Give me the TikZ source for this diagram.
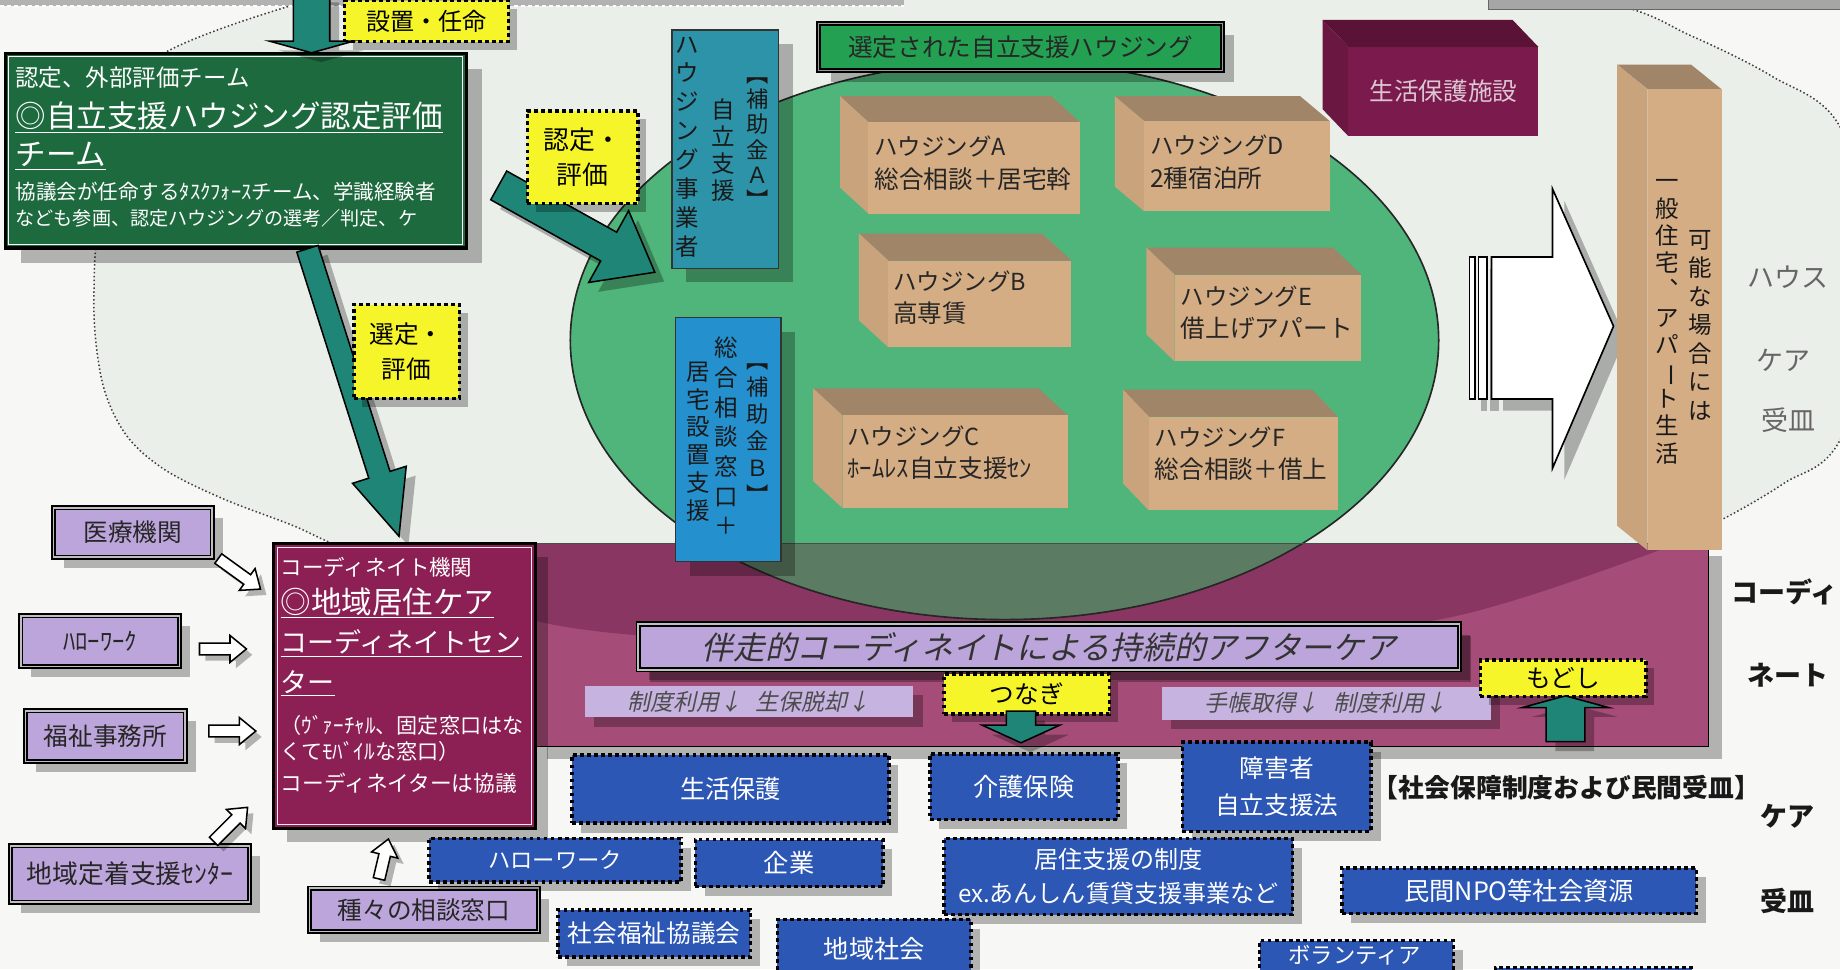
\documentclass[tikz,border=0pt]{standalone}
\usepackage{fontspec}
\usepackage{graphicx}
\setmainfont{Noto Sans CJK JP}
\newfontfamily\slnt[FakeSlant=0.22]{Noto Sans CJK JP}
\usetikzlibrary{calc,shadows}

\definecolor{bgout}{HTML}{F7F8F6}
\definecolor{bgin}{HTML}{EBEFE9}
\definecolor{tealA}{HTML}{1F8677}
\definecolor{gteam}{HTML}{1E6A3F}
\definecolor{gtitle}{HTML}{24A052}
\definecolor{ellg}{HTML}{4FB57A}
\definecolor{ellgd}{HTML}{5B7B62}
\definecolor{boxA}{HTML}{2D93A9}
\definecolor{boxB}{HTML}{2490CE}
\definecolor{pnl}{HTML}{A64C78}
\definecolor{pnld}{HTML}{8A3662}
\definecolor{coord}{HTML}{8C1F53}
\definecolor{lav}{HTML}{BCA5DA}
\definecolor{lavl}{HTML}{C6B3DF}
\definecolor{blu}{HTML}{2C57B5}
\definecolor{ylw}{HTML}{F6F52A}
\definecolor{tanF}{HTML}{D4AD84}
\definecolor{tanT}{HTML}{A08568}
\definecolor{tanS}{HTML}{C9A37B}
\definecolor{marF}{HTML}{7B1B4D}
\definecolor{marT}{HTML}{5A1236}
\definecolor{marS}{HTML}{6A1742}
\definecolor{marTxt}{HTML}{DCC6D2}

\newcommand\fs[1]{\fontsize{#1}{#1}\selectfont}
\newcommand\fsl[2]{\fontsize{#1}{#2}\selectfont}

% fat arrow polygon: #1 style, #2 from, #3 to, #4 half shaft, #5 half head, #6 head length
\newcommand\fatarrow[6]{%
  \coordinate (fah) at ($(#3)!#6pt!(#2)$);
  \path[#1] ($(#2)!#4pt!90:(#3)$) -- ($(fah)!#4pt!-90:(#2)$) -- ($(fah)!#5pt!-90:(#2)$) -- (#3) -- ($(fah)!#5pt!90:(#2)$) -- ($(fah)!#4pt!90:(#2)$) -- ($(#2)!#4pt!-90:(#3)$) -- cycle;}

% oblique box: #1 x1, #2 y1, #3 x2, #4 y2 (front face), #5 dx, #6 dy, #7 colour prefix
\newcommand\cube[7]{%
  \fill[#7T] (#1-#5,#2-#6) -- (#3-#5,#2-#6) -- (#3,#2) -- (#1,#2) -- cycle;
  \fill[#7S] (#1-#5,#2-#6) -- (#1,#2) -- (#1,#4) -- (#1-#5,#4-#6) -- cycle;
  \fill[#7F] (#1,#2) rectangle (#3,#4);}

\def\bigell{plot[smooth cycle,tension=0.55] coordinates {(150,40) (90,170) (80,255) (87,325) (107,370) (140,400) (190,425) (250,448) (300,470) (460,530) (650,548) (850,553) (1050,548) (1236,526) (1400,474) (1465,444) (1520,412) (1568,375) (1610,240) (1568,108) (1510,65) (1440,30) (1364,0) (1100,-60) (600,-70)}}

\tikzset{
  sh/.style={drop shadow={shadow xshift=#1pt,shadow yshift=-#1pt,fill=black,opacity=0.28}},
  sh/.default=7,
  dotb/.style={draw=black,line width=3pt,dash pattern=on 3.2pt off 2.8pt},
  ybox/.style={dotb,fill=ylw,sh,inner sep=0pt,text=black,align=center,anchor=north west},
  bbox/.style={dotb,fill=blu,sh=8,inner sep=0pt,text=white,align=center,anchor=north west},
  lbox/.style={draw=black,line width=1.6pt,double=white!75!black,double distance=1.2pt,fill=lav,sh=9,inner sep=0pt,anchor=north west,text=black!85},
  tarrow/.style={fill=tealA,draw=black,line width=1.3pt,sh=8},
  harrow/.style={fill=white,draw=black,line width=1.3pt,sh=5},
  ctxt/.style={anchor=west,inner sep=0pt,text=black!85},
  vtxt/.style={anchor=north,inner sep=0pt,align=center,text=black!90},
  wtxt/.style={anchor=west,inner sep=0pt,text=white},
}

\begin{document}
\begin{tikzpicture}[x=1pt,y=-1pt]
\useasboundingbox (0,0) rectangle (1568,826);
\fill[bgout] (0,0) rectangle (1568,826);

% large dotted area
\fill[bgin] \bigell;
\draw[dotted,line width=1.3pt,black!75] \bigell;

% strips at the top edge
\fill[black!30] (0,-5) rectangle (770,5);
\draw[white,line width=2pt,dash pattern=on 3pt off 3pt] (0,5) -- (770,5);
\fill[black!35] (1268,-5) rectangle (1568,8);
\draw[black!60,line width=0.8pt] (1268,-5) rectangle (1568,8);

% magenta panel
\node[fill=pnl,sh=11,minimum width=1001pt,minimum height=173pt,anchor=north west,inner sep=0pt] (panel) at (455,463) {};
\begin{scope}
  \clip (455,463) rectangle (1456,636);
  \fill[pnld] \bigell;
\end{scope}
\draw[black,line width=1.2pt] (455,463) rectangle (1456,636);

% green housing ellipse
\fill[ellg] (856,290) ellipse [x radius=370,y radius=238];
\begin{scope}
  \clip (856,290) ellipse [x radius=370,y radius=238];
  \fill[ellgd] (455,463) rectangle (1456,636);
\end{scope}
\draw[black!85,line width=1.4pt] (856,290) ellipse [x radius=370,y radius=238];
\draw[black!70,line width=1pt] (455,463) -- (1400,463);

% subsidy boxes
\node[draw=black!80,line width=1.2pt,fill=boxA,sh=12,minimum width=91pt,minimum height=203pt,anchor=north west,inner sep=0pt] (hA) at (572,25) {};
\node[vtxt,font=\fsl{19}{21.5}] (hA1) at (646,66) {︻\\補\\助\\金\\Ａ\\︼};
\node[vtxt,font=\fsl{20}{23}] (hA2) at (616,84) {自\\立\\支\\援};
\node[vtxt,font=\fsl{20}{24.6}] (hA3) at (586,31) {ハ\\ウ\\ジ\\ン\\グ\\事\\業\\者};

\node[draw=black!80,line width=1.2pt,fill=boxB,sh=12,minimum width=90pt,minimum height=208pt,anchor=north west,inner sep=0pt] (hB) at (575,270) {};
\node[vtxt,font=\fsl{19}{23}] (hB1) at (646,310) {︻\\補\\助\\金\\Ｂ\\︼};
\node[vtxt,font=\fsl{20}{25.3}] (hB2) at (619,287) {総\\合\\相\\談\\窓\\口\\＋};
\node[vtxt,font=\fsl{20}{23.8}] (hB3) at (595,308) {居\\宅\\設\\置\\支\\援};

% housing cubes
\cube{740}{104}{920}{182}{24}{22}{tan}
\node[ctxt,font=\fs{20}] (cA1) at (745,125) {ハウジングA};
\node[ctxt,font=\fs{21}] (cA2) at (745,153) {総合相談＋居宅斡};
\cube{975}{103}{1133}{180}{25}{21}{tan}
\node[ctxt,font=\fs{20}] (cD1) at (980,124) {ハウジングD};
\node[ctxt,font=\fs{21}] (cD2) at (980,152) {2種宿泊所};
\cube{757}{222}{913}{296}{25}{23}{tan}
\node[ctxt,font=\fs{20}] (cB1) at (761,240) {ハウジングB};
\node[ctxt,font=\fs{21}] (cB2) at (761,267) {高専賃};
\cube{1001}{234}{1160}{308}{24}{23}{tan}
\node[ctxt,font=\fs{20}] (cE1) at (1006,253) {ハウジングE};
\node[ctxt,font=\fs{21}] (cE2) at (1006,280) {借上げアパート};
\cube{718}{354}{910}{433}{25}{23}{tan}
\node[ctxt,font=\fs{20}] (cC1) at (722,372) {ハウジングC};
\node[ctxt,font=\fs{21}] (cC2) at (722,399) {ﾎｰﾑﾚｽ自立支援ｾﾝ};
\cube{979}{355}{1140}{435}{22}{23}{tan}
\node[ctxt,font=\fs{20}] (cF1) at (984,373) {ハウジングF};
\node[ctxt,font=\fs{21}] (cF2) at (984,400) {総合相談＋借上};

% title bar
\node[draw=black,line width=1.6pt,double=black!40,double distance=1pt,fill=gtitle,sh=10,minimum width=344pt,minimum height=40pt,anchor=north west,inner sep=0pt,text=black!85,font=\fs{21}] (title) at (697,19) {選定された自立支援ハウジング};

% welfare facility
\cube{1149}{40}{1311}{116}{22}{23}{mar}
\node[font=\fs{21},text=marTxt,inner sep=0pt] (fac) at (1230,78) {生活保護施設};

% white arrow towards ordinary housing
\path[fill=white,draw=black,line width=1.2pt,sh=10] (1252,219) rectangle (1257,340);
\path[fill=white,draw=black,line width=1.2pt,sh=10] (1260,219) rectangle (1267,340);
\path[fill=white,draw=black,line width=1.4pt,sh=10] (1271,219) -- (1323,219) -- (1323,161) -- (1375,278) -- (1323,399) -- (1323,340) -- (1271,340) -- cycle;

% pillar
\cube{1404}{76}{1467}{469}{26}{21}{tan}
\node[vtxt,font=\fsl{20}{24.3}] (pl1) at (1449,196) {可\\能\\な\\場\\合\\に\\は};
\node[vtxt,font=\fsl{20}{23.2}] (pl2) at (1421,153) {一\\般\\住\\宅\\︑\\ア\\パ\\\rotatebox[origin=c]{-90}{ー}\\ト\\生\\活};

% right side labels
\node[font=\fs{23},text=black!60,inner sep=0pt] (rh1) at (1524,236) {ハウス};
\node[font=\fs{23},text=black!60,inner sep=0pt] (rh2) at (1520,307) {ケア};
\node[font=\fs{23},text=black!60,inner sep=0pt] (rh3) at (1524,358) {受皿};
\node[font=\bfseries\fs{23},text=black!90,inner sep=0pt] (rk1) at (1521,504) {コーディ};
\node[font=\bfseries\fs{23},text=black!90,inner sep=0pt] (rk2) at (1524,575) {ネート};
\node[font=\bfseries\fs{23},text=black!90,inner sep=0pt] (rk3) at (1523,696) {ケア};
\node[font=\bfseries\fs{23},text=black!90,inner sep=0pt] (rk4) at (1523,768) {受皿};

% evaluation team
\node[draw=black,line width=3pt,fill=gteam,sh=13,minimum width=393pt,minimum height=166pt,anchor=north west,inner sep=0pt] (team) at (3,44) {};
\draw[white,line width=0.8pt] ($(team.north west)+(4.5,4.5)$) rectangle ($(team.south east)+(-4.5,-4.5)$);
\node[wtxt,font=\fs{20}] (gt1) at (13,66) {認定、外部評価チーム};
\node[wtxt,font=\fs{26}] (gt2) at (13,100) {\underline{◎自立支援ハウジング認定評価}};
\node[wtxt,font=\fs{26}] (gt3) at (13,133) {\underline{チーム}};
\node[wtxt,font=\fs{17.5}] (gt4) at (13,163) {協議会が任命するﾀｽｸﾌｫｰｽチーム、学識経験者};
\node[wtxt,font=\fs{16.3}] (gt5) at (13,186) {なども参画、認定ハウジングの選考／判定、ケ};

% appoint box and arrow
\node[ybox,minimum width=140pt,minimum height=35pt,font=\fs{20.5}] (appoint) at (292,-1) {設置・任命};
\coordinate (a0s) at (265.5,-6);
\coordinate (a0e) at (265.5,45);
\fatarrow{tarrow}{a0s}{a0e}{15.5}{36}{10}

% arrow to the coordination centre
\coordinate (la1) at (262,212);
\coordinate (la2) at (340,457);
\fatarrow{tarrow}{la1}{la2}{9.5}{24}{55}
\node[ybox,minimum width=90pt,minimum height=80pt,font=\fsl{21}{30}] (select) at (300,258) {選定・\\評価};

% arrow to the housing
\coordinate (ra1) at (425,158);
\coordinate (ra2) at (558,232);
\fatarrow{tarrow}{ra1}{ra2}{14}{35}{45}
\node[ybox,minimum width=94pt,minimum height=79pt,font=\fsl{22}{30}] (certify) at (448,93) {認定・\\評価};

% coordination centre
\node[draw=black,line width=2.5pt,fill=coord,sh=11,minimum width=223pt,minimum height=243pt,anchor=north west,inner sep=0pt] (centre) at (232,462) {};
\draw[white!70!pink,line width=0.8pt] ($(centre.north west)+(4.5,4.5)$) rectangle ($(centre.south east)+(-4.5,-4.5)$);
\node[wtxt,font=\fs{18.3}] (ct1) at (239,483) {コーディネイト機関};
\node[wtxt,font=\fs{26}] (ct2) at (239,514) {\underline{◎地域居住ケア}};
\node[wtxt,font=\fs{23}] (ct3) at (239,548) {\underline{コーディネイトセン}};
\node[wtxt,font=\fs{23}] (ct4) at (239,582) {\underline{ター}};
\node[wtxt,font=\fs{18}] (ct5) at (239,618) {（ｳﾞｧｰﾁｬﾙ、固定窓口はな};
\node[wtxt,font=\fs{18}] (ct6) at (239,640) {くてﾓﾊﾞｲﾙな窓口）};
\node[wtxt,font=\fs{18.5}] (ct7) at (239,667) {コーディネイターは協議};

% entry points
\node[lbox,minimum width=135pt,minimum height=42pt,font=\fs{21}] (med) at (45,432) {医療機関};
\node[lbox,minimum width=135pt,minimum height=43pt,font=\fs{21}] (hw1) at (17,524) {ﾊﾛｰﾜｰｸ};
\node[lbox,minimum width=136pt,minimum height=43pt,font=\fs{21}] (wel) at (21,605) {福祉事務所};
\node[lbox,minimum width=204pt,minimum height=48pt,font=\fs{22}] (settle) at (8,720) {地域定着支援ｾﾝﾀｰ};
\node[lbox,minimum width=195pt,minimum height=37pt,font=\fs{21}] (consult) at (263,756) {種々の相談窓口};

\coordinate (h1s) at (186,476); \coordinate (h1e) at (222,502);
\coordinate (h2s) at (170,553); \coordinate (h2e) at (210,553);
\coordinate (h3s) at (178,623); \coordinate (h3e) at (218,623);
\coordinate (h4s) at (182,717); \coordinate (h4e) at (211,688);
\coordinate (h5s) at (323,749); \coordinate (h5e) at (331,715);
\fatarrow{harrow}{h1s}{h1e}{5}{11.5}{14}
\fatarrow{harrow}{h2s}{h2e}{5}{11.5}{14}
\fatarrow{harrow}{h3s}{h3e}{5}{11.5}{14}
\fatarrow{harrow}{h4s}{h4e}{5}{11.5}{14}
\fatarrow{harrow}{h5s}{h5e}{5}{11.5}{14}

% after-care inside the panel
\node[lbox,sh=10,minimum width=700pt,minimum height=39pt,font=\slnt\fs{27},text=black!80] (after) at (543,531) {伴走的コーディネイトによる持続的アフターケア};
\node[fill=lavl,sh=8,minimum width=280pt,minimum height=27pt,anchor=north west,inner sep=0pt,font=\slnt\fs{19.5},text=black!70] (lab1) at (498,584) {制度利用↓\hspace{0.6em}生保脱却↓};
\node[fill=lavl,sh=8,minimum width=280pt,minimum height=28pt,anchor=north west,inner sep=0pt,font=\slnt\fs{19.5},text=black!70] (lab2) at (990,585) {手帳取得↓\hspace{0.6em}制度利用↓};
\node[ybox,minimum width=141pt,minimum height=34pt,font=\fs{21}] (link) at (803,573) {つなぎ};
\coordinate (ts) at (870,606); \coordinate (te) at (870,633);
\fatarrow{tarrow}{ts}{te}{12.5}{33}{15}
\node[ybox,minimum width=141pt,minimum height=31pt,font=\fs{21}] (back) at (1260,561) {もどし};
\coordinate (ms) at (1334,632); \coordinate (me) at (1334,593);
\fatarrow{tarrow}{ms}{me}{16.5}{37}{10}

% social security resources
\node[bbox,minimum width=270pt,minimum height=58pt,font=\fs{21.5}] (b1) at (486,642) {生活保護};
\node[bbox,minimum width=160pt,minimum height=56pt,font=\fs{21.5}] (b2) at (791,641) {介護保険};
\node[bbox,minimum width=161pt,minimum height=76pt,font=\fsl{21}{31}] (b3) at (1006,631) {障害者\\自立支援法};
\node[font=\bfseries\fs{22},text=black!90,inner sep=0pt] (ss) at (1335,671) {【社会保障制度および民間受皿】};
\node[bbox,minimum width=215pt,minimum height=37pt,font=\fs{19}] (b4) at (364,713) {ハローワーク};
\node[bbox,minimum width=160pt,minimum height=40pt,font=\fs{21.5}] (b5) at (591,714) {企業};
\node[bbox,minimum width=297pt,minimum height=65pt,font=\fsl{20.5}{29}] (b6) at (803,713) {居住支援の制度\\ex.あんしん賃貸支援事業など};
\node[bbox,minimum width=302pt,minimum height=39pt,font=\fs{21.5}] (b7) at (1142,738) {民間NPO等社会資源};
\node[bbox,minimum width=164pt,minimum height=40pt,font=\fs{21}] (b8) at (474,774) {社会福祉協議会};
\node[bbox,minimum width=165pt,minimum height=50pt,font=\fs{21.5}] (b9) at (661,782) {地域社会};
\node[bbox,minimum width=165pt,minimum height=52pt] (b10) at (1072,800) {};
\node[font=\fs{19},text=white,inner sep=0pt] (b10t) at (1154.5,814) {ボランティア};
\node[bbox,minimum width=167pt,minimum height=50pt] (b11) at (1273,823) {};
\end{tikzpicture}
\end{document}
